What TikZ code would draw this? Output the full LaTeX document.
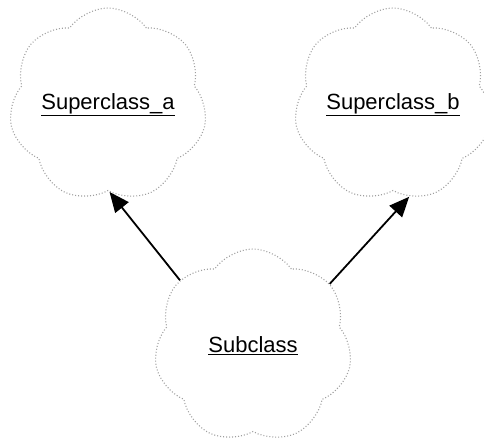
\documentclass[tikz,border=0pt]{standalone}
\usepackage{fontspec}
\setmainfont{Liberation Sans}
\usetikzlibrary{shapes.symbols,arrows.meta}
\tikzset{
  classcloud/.style={cloud, cloud puffs=7, cloud puff arc=110, aspect=1, draw=gray!75,
    dash pattern=on 1pt off 2pt, line width=1.1pt, minimum width=198pt,
    minimum height=194pt, inner sep=0pt, shape border rotate=20,
    label={[font=\fontsize{22}{26}\selectfont]center:\underline{#1}}},
  isa/.style={-{Triangle[length=20pt,width=17pt]}, line width=1.8pt}
}
\begin{document}
\begin{tikzpicture}[x=1pt,y=1pt]
          \useasboundingbox (0,0) rectangle (484,-442);
          \node[classcloud=Superclass\_a] (supa) at (108,-105){};
          \node[classcloud=Superclass\_b] (supb) at (393,-105){};
          \node[classcloud=Subclass] (sub) at (253,-346){};
          \draw[isa] (sub.138) -- (supa.-89);
          \draw[isa] (sub.39) -- (supb.-80);
        \end{tikzpicture}
\end{document}
